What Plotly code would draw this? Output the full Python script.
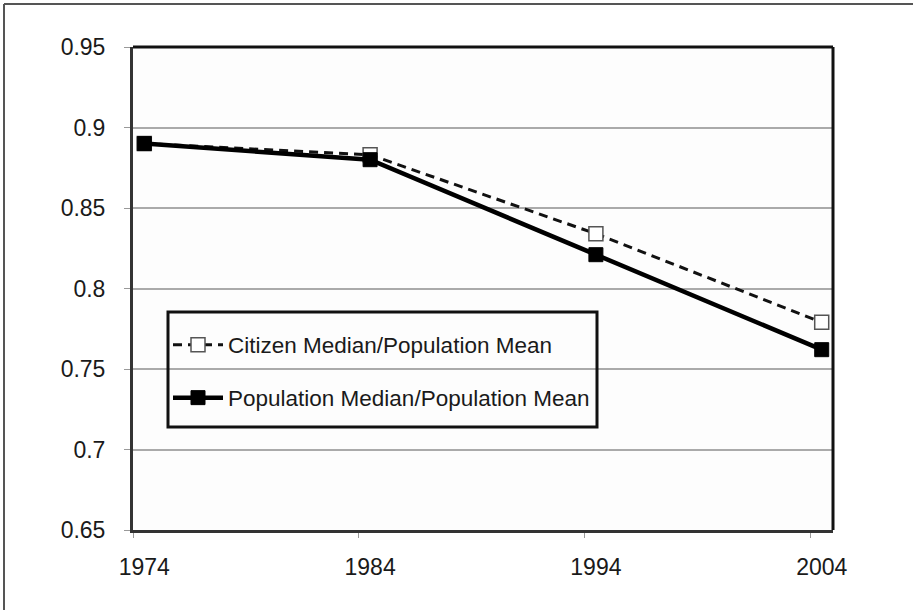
import plotly.graph_objects as go

years = [1974, 1984, 1994, 2004]
citizen = [0.890, 0.883, 0.834, 0.779]
population = [0.890, 0.880, 0.821, 0.762]
y_ticks = [0.65, 0.7, 0.75, 0.8, 0.85, 0.9, 0.95]
y_labels = ["0.65", "0.7", "0.75", "0.8", "0.85", "0.9", "0.95"]
x_labels = ["1974", "1984", "1994", "2004"]

FONT = "Liberation Sans, Arial, sans-serif"
L, R, T, B = 133, 80, 47, 80
W, H = 913, 610
PW, PH = W - L - R, H - T - B

def px(x):
    return (x - L) / PW

def py(y):
    return (H - B - y) / PH

fig = go.Figure()
fig.add_trace(go.Scatter(
    x=years, y=citizen, mode="lines+markers",
    name="Citizen Median/Population Mean",
    line=dict(color="#111", width=3, dash="9px,6px"),
    marker=dict(symbol="square", size=14, color="white",
                line=dict(color="#555", width=1.5)),
    legend="legend", showlegend=True,
))
fig.add_trace(go.Scatter(
    x=years, y=population, mode="lines+markers",
    name="Population Median/Population Mean",
    line=dict(color="#000", width=4.5),
    marker=dict(symbol="square", size=14, color="#000",
                line=dict(color="#000", width=1)),
    legend="legend2", showlegend=True,
))

shapes = [
    dict(type="rect", xref="paper", yref="paper",
         x0=px(168), x1=px(597), y0=py(427), y1=py(312),
         line=dict(color="#111", width=3), fillcolor="rgba(0,0,0,0)", layer="above"),
    dict(type="line", xref="paper", yref="paper",
         x0=px(4), x1=px(W + 20), y0=py(4), y1=py(4),
         line=dict(color="#555", width=2)),
    dict(type="line", xref="paper", yref="paper",
         x0=px(4), x1=px(4), y0=py(4), y1=py(H + 20),
         line=dict(color="#555", width=2)),
    dict(type="line", xref="paper", yref="paper",
         x0=0, x1=1, y0=1, y1=1, line=dict(color="#111", width=3)),
    dict(type="line", xref="paper", yref="paper",
         x0=1, x1=1, y0=0, y1=1, line=dict(color="#111", width=3)),
]

legend_font = dict(size=22.5, family=FONT, color="#1a1a1a")

fig.update_layout(
    width=W, height=H,
    margin=dict(l=L, r=R, t=T, b=B),
    paper_bgcolor="white", plot_bgcolor="#fdfdfd",
    font=dict(family=FONT, color="#1a1a1a"),
    shapes=shapes,
    showlegend=True,
    legend=dict(x=px(168), y=py(345), xanchor="left", yanchor="middle",
                bgcolor="rgba(0,0,0,0)", borderwidth=0, itemwidth=50,
                font=legend_font),
    legend2=dict(x=px(168), y=py(398), xanchor="left", yanchor="middle",
                 bgcolor="rgba(0,0,0,0)", borderwidth=0, itemwidth=50,
                 font=legend_font),
    xaxis=dict(
        range=[1973.5, 2004.5], tickvals=years, ticktext=x_labels,
        ticks="", showgrid=False, zeroline=False,
        showline=True, linecolor="#333", linewidth=3,
        tickfont=dict(size=23, family=FONT, color="#1a1a1a"),
        ticklabelstandoff=14,
        minor=dict(tickvals=[1973.5, 1983.5, 1993.5, 2003.5], ticks="outside",
                   ticklen=5, tickcolor="#999", tickwidth=1, showgrid=False),
    ),
    yaxis=dict(
        range=[0.65, 0.95], tickvals=y_ticks, ticktext=y_labels,
        ticks="outside", ticklen=6, tickcolor="#999", tickwidth=1,
        showgrid=True, gridcolor="#aaa", gridwidth=2, zeroline=False,
        showline=True, linecolor="#333", linewidth=3,
        tickfont=dict(size=23, family=FONT, color="#1a1a1a"),
        ticklabelstandoff=14,
    ),
)

fig.write_html("out.html", config={"displayModeBar": False},
               post_script="document.body.style.margin='0';document.body.style.overflow='hidden';")
